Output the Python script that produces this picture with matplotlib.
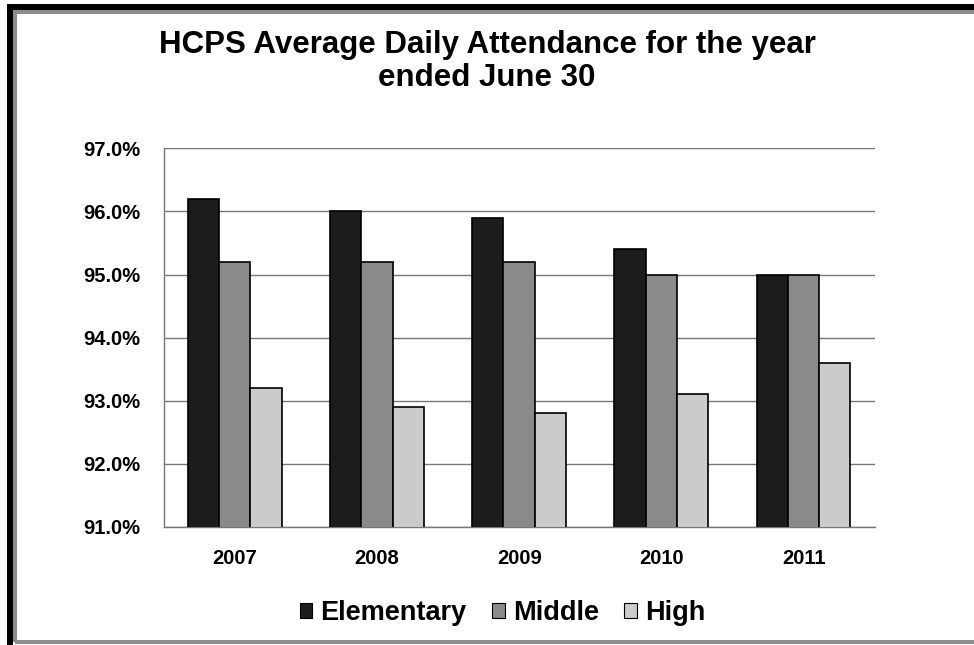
import matplotlib.pyplot as plt
import numpy as np
from matplotlib.patches import Rectangle
from matplotlib.ticker import FuncFormatter

plt.rcParams['font.family'] = ['Liberation Sans', 'DejaVu Sans']

years = ['2007', '2008', '2009', '2010', '2011']
series_names = ['Elementary', 'Middle', 'High']
elementary = [96.2, 96.0, 95.9, 95.4, 95.0]
middle = [95.2, 95.2, 95.2, 95.0, 95.0]
high = [93.2, 92.9, 92.8, 93.1, 93.6]
colors = ['#1c1c1c', '#8a8a8a', '#cbcbcb']

fig = plt.figure(figsize=(9.74, 6.45), dpi=100)
ax = fig.add_axes([0.168, 0.183, 0.730, 0.587])

x = np.arange(len(years))
w = 0.22
for i, (vals, name, col) in enumerate(zip([elementary, middle, high], series_names, colors)):
    ax.bar(x + (i - 1) * w, vals, w, bottom=0, color=col, edgecolor='black',
           linewidth=1.2, label=name, zorder=3)

ax.set_ylim(91, 97)
ax.set_xlim(-0.5, len(years) - 0.5)
ax.set_yticks(np.arange(91, 97.5, 1))
ax.yaxis.set_major_formatter(FuncFormatter(lambda v, p: f'{v:.1f}%'))
ax.set_xticks(x)
ax.set_xticklabels(years)
ax.tick_params(axis='both', length=0, labelsize=14.5)
ax.tick_params(axis='y', pad=17)
ax.tick_params(axis='x', pad=16)
for lab in ax.get_xticklabels() + ax.get_yticklabels():
    lab.set_fontweight('bold')

ax.grid(axis='y', color='#777777', linewidth=1.0, zorder=0)
for s in ['top', 'right']:
    ax.spines[s].set_visible(False)
for s in ['left', 'bottom']:
    ax.spines[s].set_color('#777777')
    ax.spines[s].set_linewidth(1.0)

fig.text(0.5, 0.905, 'HCPS Average Daily Attendance for the year\nended June 30',
         ha='center', va='center', fontsize=22.5, fontweight='bold', linespacing=1.12)

leg = fig.legend(loc='center', bbox_to_anchor=(0.516, 0.049), ncol=3, frameon=False,
                 prop={'size': 19.5, 'weight': 'bold'}, handlelength=0.45,
                 handleheight=0.45, handletextpad=0.3, columnspacing=0.95)
for h in leg.legend_handles:
    h.set_linewidth(0.8)

# page frame: thick black outer line and grey inner line
fig.patches.append(Rectangle((0.0103, -0.1), 1.2, 1.089, transform=fig.transFigure,
                             fill=False, edgecolor='black', linewidth=4.3))
fig.patches.append(Rectangle((0.0154, 0.0039), 1.2, 0.977, transform=fig.transFigure,
                             fill=False, edgecolor='#8c8c8c', linewidth=2.9))

fig.savefig('out.png', dpi=100)
